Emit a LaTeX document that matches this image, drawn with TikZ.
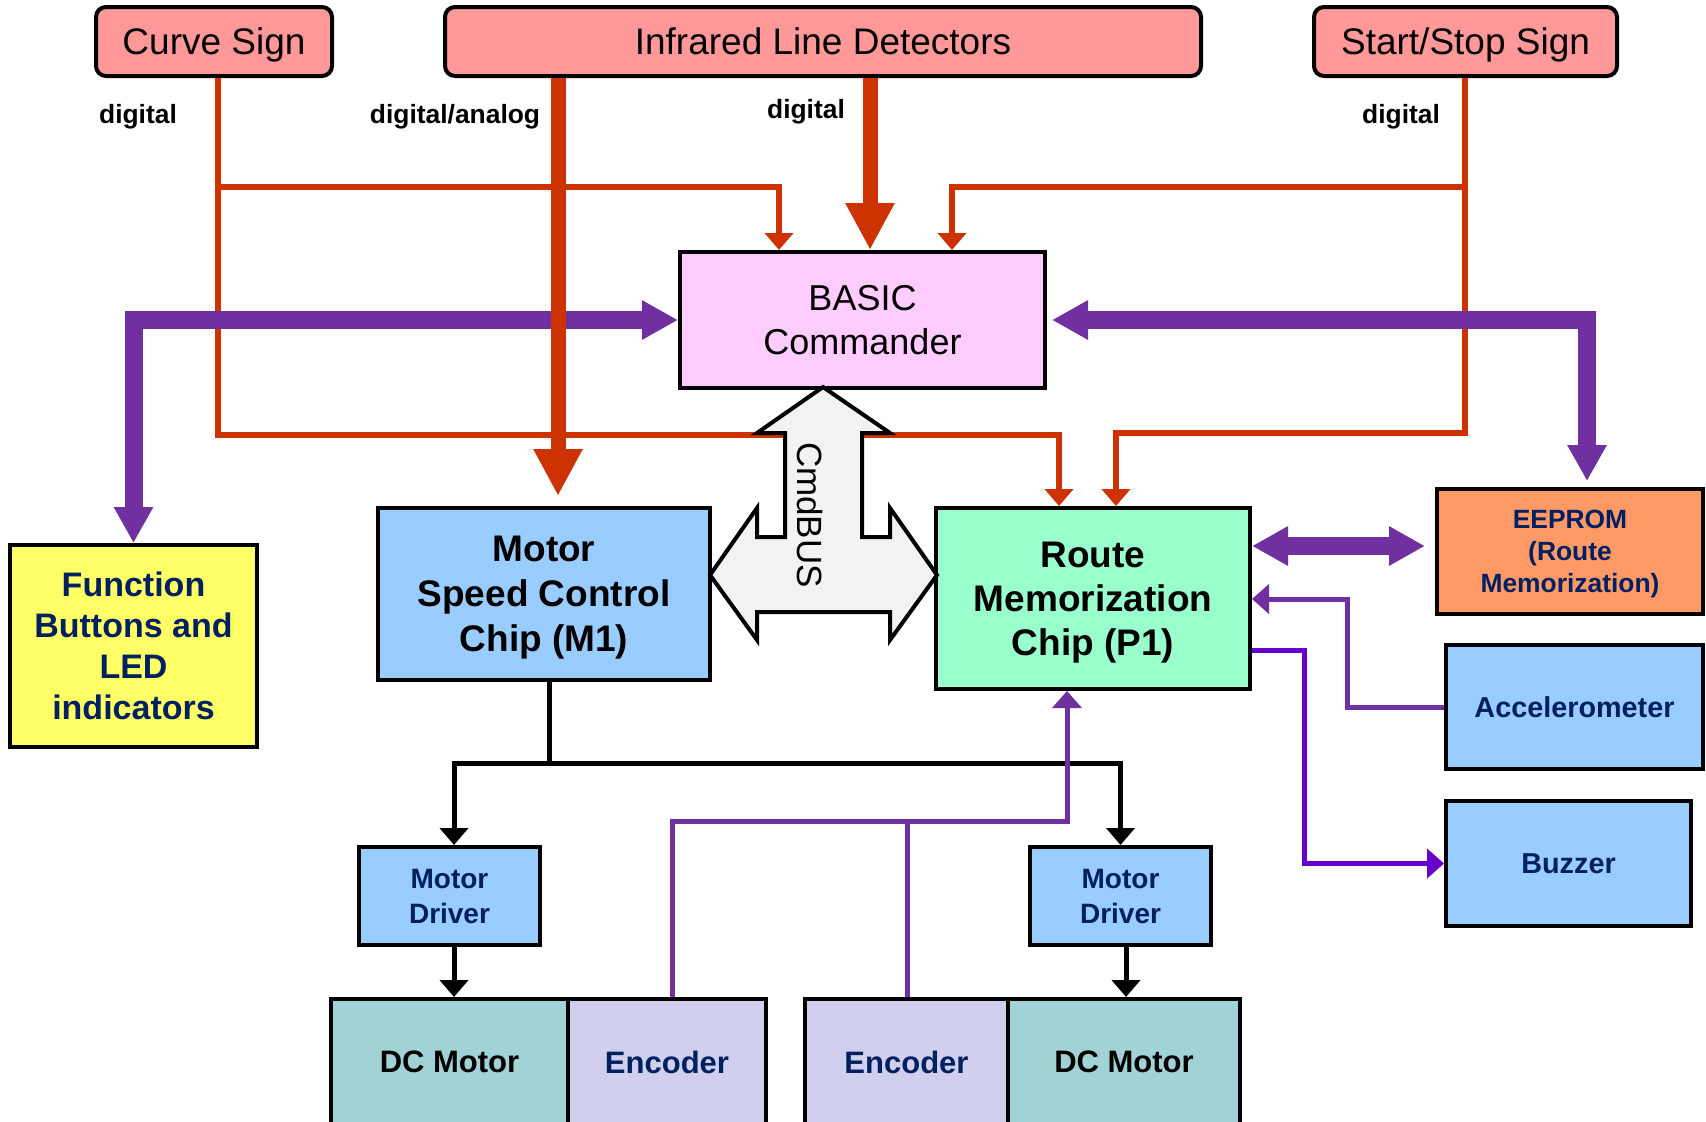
\documentclass[tikz,border=0pt]{standalone}
\usepackage{fontspec}
\setmainfont{Liberation Sans}
\usetikzlibrary{arrows.meta}
\definecolor{pinkc}{HTML}{FF9999}
\definecolor{basicc}{HTML}{FFCCFF}
\definecolor{bluec}{HTML}{99CCFF}
\definecolor{greenc}{HTML}{99FFCC}
\definecolor{eepromc}{HTML}{FF9966}
\definecolor{yellowc}{HTML}{FFFF66}
\definecolor{dcc}{HTML}{A0D2D6}
\definecolor{encc}{HTML}{D0D0EE}
\definecolor{busc}{HTML}{F2F2F2}
\definecolor{navy}{HTML}{002060}
\definecolor{orangec}{HTML}{CC3300}
\definecolor{purplec}{HTML}{7030A0}
\definecolor{violetc}{HTML}{6600CC}
\tikzset{
  box/.style={draw=black, line width=2pt, inner sep=0pt, text depth=0pt, align=center},
  topbox/.style={box, rounded corners=5pt, fill=pinkc, font=\fontsize{18.5}{22}\selectfont},
  lbl/.style={anchor=base, inner sep=0pt, font=\fontsize{13.2}{15}\selectfont\bfseries},
  othin/.style={draw=orangec, line width=2.6pt},
  othick/.style={draw=orangec, line width=7.5pt},
  pthick/.style={draw=purplec, line width=9pt, line join=miter},
  pthin/.style={draw=purplec, line width=2.5pt},
  vthin/.style={draw=violetc, line width=2.5pt},
  bthin/.style={draw=black, line width=2.5pt},
  TipS/.tip={Triangle[width=14pt,length=8.5pt]},
  TipBig/.tip={Triangle[width=23pt,length=23.5pt]},
  TipP/.tip={Triangle[width=18.5pt,length=18pt]},
  TipQ/.tip={Triangle[width=14.5pt,length=8.5pt]},
}
\begin{document}
\begin{tikzpicture}[x=0.5pt, y=-0.5pt]
\useasboundingbox (0,0) rectangle (1706,1121);
\clip (0,0) rectangle (1706,1121);

% boxes
\node[topbox, minimum width=118pt, minimum height=34.5pt] (curve) at (214,41.5) {Curve Sign};
\node[topbox, minimum width=378pt, minimum height=34.5pt] (infra) at (823,41.5) {Infrared Line Detectors};
\node[topbox, minimum width=151.5pt, minimum height=34.5pt] (start) at (1465.5,41.5) {Start/Stop Sign};
\node[box, fill=basicc, minimum width=182.5pt, minimum height=68pt, font=\fontsize{18}{22}\selectfont] (basic) at (862.5,320) {BASIC\\Commander};
\node[box, fill=bluec, minimum width=166pt, minimum height=86pt, font=\fontsize{18.5}{22.5}\selectfont\bfseries] (m1) at (544,594) {Motor\\Speed Control\\Chip (M1)};
\node[box, fill=greenc, minimum width=157pt, minimum height=90.5pt, font=\fontsize{18.5}{22}\selectfont\bfseries] (rmc) at (1093,598.5) {Route\\Memorization\\Chip (P1)};
\node[box, fill=yellowc, minimum width=123.5pt, minimum height=101pt, text=navy, font=\fontsize{17}{20.5}\selectfont\bfseries] (func) at (133.5,646) {Function\\Buttons and\\LED\\indicators};
\node[box, fill=eepromc, minimum width=133pt, minimum height=62.5pt, text=navy, font=\fontsize{13.2}{16}\selectfont\bfseries] (eeprom) at (1570,551.5) {EEPROM\\(Route\\Memorization)};
\node[box, fill=bluec, minimum width=128.5pt, minimum height=62pt, text=navy, font=\fontsize{14.4}{17}\selectfont\bfseries] (accel) at (1574.5,707) {Accelerometer};
\node[box, fill=bluec, minimum width=122.5pt, minimum height=62.5pt, text=navy, font=\fontsize{14.4}{17}\selectfont\bfseries] (buzzer) at (1568.5,863.5) {Buzzer};
\node[box, fill=bluec, minimum width=90.5pt, minimum height=49pt, text=navy, font=\fontsize{14}{17.5}\selectfont\bfseries] (md1) at (449.5,896) {Motor\\Driver};
\node[box, fill=bluec, minimum width=90.5pt, minimum height=49pt, text=navy, font=\fontsize{14}{17.5}\selectfont\bfseries] (md2) at (1120.5,896) {Motor\\Driver};
\node[box, fill=dcc, minimum width=118.5pt, minimum height=63pt, font=\fontsize{15.5}{18}\selectfont\bfseries] (dc1) at (449.5,1062) {DC Motor};
\node[box, fill=encc, minimum width=99pt, minimum height=63pt, text=navy, font=\fontsize{15.5}{18}\selectfont\bfseries] (enc1) at (667,1062) {Encoder};
\node[box, fill=encc, minimum width=101.5pt, minimum height=63pt, text=navy, font=\fontsize{15.5}{18}\selectfont\bfseries] (enc2) at (906.5,1062) {Encoder};
\node[box, fill=dcc, minimum width=116pt, minimum height=63pt, font=\fontsize{15.5}{18}\selectfont\bfseries] (dc2) at (1124,1062) {DC Motor};

% labels
\node[lbl] (l1) at (138,123) {digital};
\node[lbl] (l2) at (455,123) {digital/analog};
\node[lbl] (l3) at (806,118.5) {digital};
\node[lbl] (l4) at (1401,123) {digital};

% thin orange
\draw[othin, -{TipS}] (218,0 |- curve.south) -- (218,435) -- (1059,435) -- (1059,0 |- rmc.north);
\draw[othin, -{TipS}] (218,187) -- (779,187) -- (779,0 |- basic.north);
\draw[othin, -{TipS}] (1465,0 |- start.south) -- (1465,433) -- (1116,433) -- (1116,0 |- rmc.north);
\draw[othin, -{TipS}] (1465,187) -- (952,187) -- (952,0 |- basic.north);

% thick purple
\draw[pthick, {TipP}-{TipP}] (func.north) |- (basic.west);
\draw[pthick, {TipP}-{TipP}] ([xshift=2.5pt]basic.east) -| ([yshift=3pt]1587,0 |- eeprom.north);
\draw[pthick, {TipP}-{TipP}] (rmc.east |- 0,546) -- ([xshift=-5pt]eeprom.west |- 0,546);

% thick orange
\draw[othick, -{TipBig}] (558,0 |- infra.south) -- ([yshift=5pt]558,0 |- m1.north);
\draw[othick, -{TipBig}] (870,0 |- infra.south) -- (870,0 |- basic.north);

% black
\draw[bthin, -{TipS}] (549,0 |- m1.south) -- (549,763) -| (454,0 |- md1.north);
\draw[bthin, -{TipS}] (549,763) -| (md2.north);
\draw[bthin, -{TipS}] (454,0 |- md1.south) -- (454,0 |- dc1.north);
\draw[bthin, -{TipS}] (1126,0 |- md2.south) -- (1126,0 |- dc2.north);

% thin purple
\draw[pthin, -{TipQ}] (672,0 |- enc1.north) |- (1067,821) -- (1067,0 |- rmc.south);
\draw[pthin] (907,0 |- enc2.north) -- (907,821);
\draw[pthin, -{TipQ}] (accel.west) -| (1347,599) -- (rmc.east |- 0,599);
\draw[vthin, -{TipQ}] (rmc.east |- 0,650) -| (1304,863.5) -- (buzzer.west);

% CmdBUS
\draw[line width=2pt, fill=busc, line join=miter] (823,387) -- (890,433) -- (862,433) -- (862,537) -- (890,537) -- (890,508) -- (937,575) -- (890,640) -- (890,612) -- (757,612) -- (757,640) -- (710,575) -- (757,508) -- (757,537) -- (785,537) -- (785,433) -- (757,433) -- cycle;
\node[rotate=-90, inner sep=0pt, text depth=0pt, font=\fontsize{17.5}{20}\selectfont] (cmdbus) at (810,515) {CmdBUS};
\end{tikzpicture}
\end{document}
